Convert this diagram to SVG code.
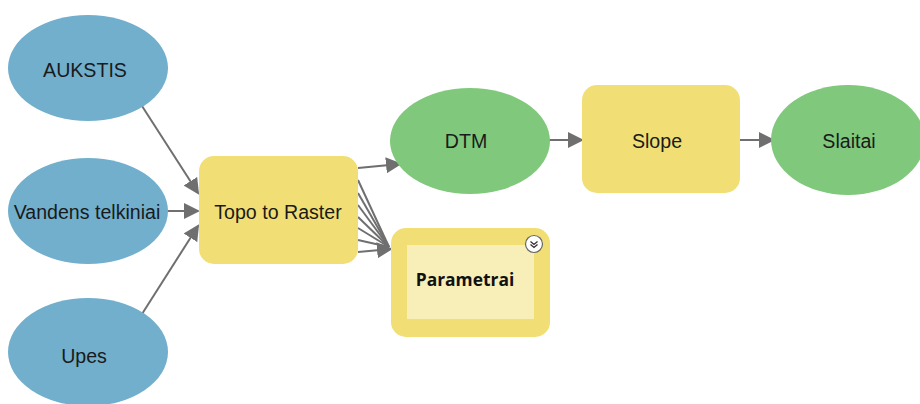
<svg xmlns="http://www.w3.org/2000/svg" width="920" height="404" viewBox="0 0 920 404">
<style>
.blue{fill:#71AFCD}
.green{fill:#80C97C}
.yellow{fill:#F1DF76}
.pale{fill:#F8EEB8}
.t{font-family:"Liberation Sans",Arial,sans-serif;font-size:19.6px;fill:#1a1a1a;text-anchor:middle}
.b{font-family:"Open Sans","Liberation Sans",sans-serif;font-size:17.4px;font-weight:bold;fill:#111;text-anchor:middle}
.c{stroke:#6f6f6f;stroke-width:2;fill:none}
</style>
<defs>
<marker id="ahb" markerWidth="16" markerHeight="16" refX="14" refY="8" orient="auto" markerUnits="userSpaceOnUse" viewBox="0 0 16 16">
<path d="M0,0 L16,8 L0,16 z" fill="#6f6f6f"/>
</marker>
</defs>
<g id="connectors">
<line class="c" x1="142" y1="106" x2="198" y2="193" marker-end="url(#ahb)"/>
<line class="c" x1="168" y1="211" x2="198" y2="211" marker-end="url(#ahb)"/>
<line class="c" x1="142" y1="314" x2="198" y2="226" marker-end="url(#ahb)"/>
<line class="c" x1="358" y1="168" x2="400" y2="164" marker-end="url(#ahb)"/>
<line class="c" x1="358" y1="180" x2="389" y2="247"/>
<line class="c" x1="358" y1="193" x2="389" y2="247"/>
<line class="c" x1="358" y1="205" x2="389" y2="247"/>
<line class="c" x1="358" y1="217" x2="389" y2="247"/>
<line class="c" x1="358" y1="228" x2="389" y2="247"/>
<line class="c" x1="358" y1="240" x2="389" y2="247"/>
<line class="c" x1="358" y1="252" x2="391" y2="249" marker-end="url(#ahb)"/>
<line class="c" x1="549" y1="140" x2="582" y2="140" marker-end="url(#ahb)"/>
<line class="c" x1="740" y1="140" x2="773" y2="140" marker-end="url(#ahb)"/>
</g>
<g id="aukstis">
<ellipse class="blue" cx="88" cy="68" rx="80" ry="53"/>
<text class="t" x="85" y="77">AUKSTIS</text>
</g>
<g id="vandens">
<ellipse class="blue" cx="88" cy="211" rx="80" ry="53"/>
<text class="t" x="87" y="219">Vandens telkiniai</text>
</g>
<g id="upes">
<ellipse class="blue" cx="88" cy="352" rx="80" ry="54"/>
<text class="t" x="84" y="363">Upes</text>
</g>
<g id="topo">
<rect class="yellow" x="199" y="156" width="159" height="108" rx="15"/>
<text class="t" x="278" y="219">Topo to Raster</text>
</g>
<g id="dtm">
<ellipse class="green" cx="470" cy="141" rx="80" ry="53"/>
<text class="t" x="466" y="148">DTM</text>
</g>
<g id="slope">
<rect class="yellow" x="582" y="85" width="158" height="108" rx="15"/>
<text class="t" x="657" y="148">Slope</text>
</g>
<g id="slaitai">
<ellipse class="green" cx="848" cy="140" rx="77" ry="55"/>
<text class="t" x="849" y="148">Slaitai</text>
</g>
<g id="parametrai">
<rect class="yellow" x="391" y="228" width="159" height="109" rx="15"/>
<rect class="pale" x="407" y="245" width="127" height="74"/>
<circle cx="534" cy="244" r="8.5" fill="#fff" stroke="#666" stroke-width="1.2"/>
<path d="M530.5,241.5 L534,244.5 L537.5,241.5 M530.5,244.5 L534,247.5 L537.5,244.5" fill="none" stroke="#333" stroke-width="1.3"/>
<text class="b" x="465" y="286">Parametrai</text>
</g>
</svg>
